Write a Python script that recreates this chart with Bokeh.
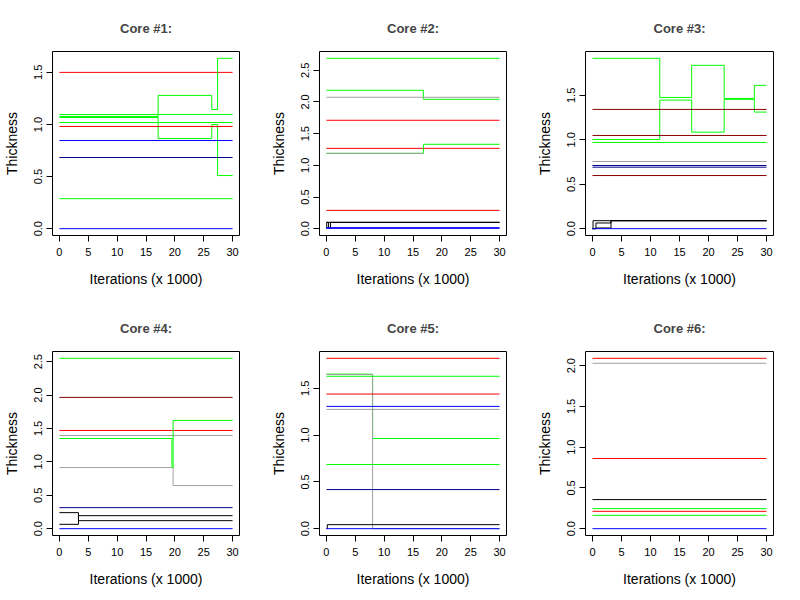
from bokeh.plotting import figure
from bokeh.layouts import gridplot
from bokeh.models import Range1d, FixedTicker, PrintfTickFormatter
from bokeh.embed import file_html
from bokeh.resources import INLINE

# ---------------- data ----------------
X_TICKS = [0, 5, 10, 15, 20, 25, 30]
TITLES = ["Core #1:", "Core #2:", "Core #3:", "Core #4:", "Core #5:", "Core #6:"]
X_LABEL = "Iterations (x 1000)"
Y_LABEL = "Thickness"
Y_TICKS = [
    [0.0, 0.5, 1.0, 1.5],
    [0.0, 0.5, 1.0, 1.5, 2.0, 2.5],
    [0.0, 0.5, 1.0, 1.5],
    [0.0, 0.5, 1.0, 1.5, 2.0, 2.5],
    [0.0, 0.5, 1.0, 1.5],
    [0.0, 0.5, 1.0, 1.5, 2.0],
]

# each series: (kind, change points incl. end [x1000 iterations], thickness values)
core1 = [
    ("r", [0, 30], [1.50]),
    ("g", [0, 30], [1.096]),
    ("g", [0, 17.1, 26.4, 27.4, 30], [1.077, 1.279, 1.144, 1.635]),
    ("g", [0, 17.1, 26.4, 27.4, 30], [1.067, 0.865, 1.000, 0.510]),
    ("g", [0, 30], [1.019]),
    ("r", [0, 30], [0.981]),
    ("b", [0, 30], [0.846]),
    ("db", [0, 30], [0.683]),
    ("g", [0, 30], [0.288]),
    ("b", [0, 30], [0.0]),
]
core2 = [
    ("g", [0, 30], [2.689]),
    ("g", [0, 16.8, 30], [2.184, 2.042]),
    ("gy", [0, 30], [2.074]),
    ("r", [0, 30], [1.711]),
    ("r", [0, 30], [1.268]),
    ("g", [0, 16.8, 30], [1.189, 1.332]),
    ("gy", [0, 16.8], [1.189]),
    ("r", [0, 30], [0.289]),
    ("k", [0, 0.05, 30], [0.0, 0.10]),
    ("k", [0, 0.35, 0.7, 30], [0.10, 0.01, 0.10]),
    ("b", [0, 30], [0.016]),
    ("b", [0, 30], [0.005]),
]
core3 = [
    ("g", [0, 11.6, 17.1, 22.7, 27.9, 30], [1.917, 1.477, 1.838, 1.466, 1.613]),
    ("g", [0, 11.6, 17.1, 22.7, 27.9, 30], [1.004, 1.447, 1.086, 1.455, 1.312]),
    ("dr", [0, 30], [1.342]),
    ("dr", [0, 30], [1.049]),
    ("g", [0, 30], [0.970]),
    ("gy", [0, 30], [0.756]),
    ("db", [0, 30], [0.711]),
    ("db", [0, 30], [0.692]),
    ("dr", [0, 30], [0.598]),
    ("k", [0, 0.1, 30], [0.0, 0.090]),
    ("k", [0, 0.6, 3.2, 30], [0.0, 0.064, 0.090]),
    ("k", [0, 0.6, 3.2, 30], [0.0, 0.008, 0.090]),
    ("b", [0, 30], [0.0]),
]
core4 = [
    ("g", [0, 30], [2.55]),
    ("dr", [0, 30], [1.965]),
    ("r", [0, 30], [1.47]),
    ("gy", [0, 30], [1.395]),
    ("gy", [0, 19.7, 30], [0.915, 0.645]),
    ("g", [0, 19.5, 19.7, 30], [1.35, 0.915, 1.62]),
    ("db", [0, 30], [0.315]),
    ("k", [0, 3.3, 30], [0.24, 0.12]),
    ("k", [0, 3.3, 30], [0.065, 0.195]),
    ("b", [0, 30], [0.0]),
]
core5 = [
    ("r", [0, 30], [1.821]),
    ("g", [0, 8.0, 30], [1.652, 0.964]),
    ("gy", [0, 8.0, 30], [1.648, 0.0]),
    ("g", [0, 30], [1.629]),
    ("r", [0, 30], [1.439]),
    ("b", [0, 30], [1.307]),
    ("gy", [0, 30], [1.275]),
    ("g", [0, 30], [0.686]),
    ("db", [0, 30], [0.418]),
    ("k", [0, 0.15, 30], [0.0, 0.043]),
    ("b", [0, 30], [0.0]),
]
core6 = [
    ("r", [0, 30], [2.09]),
    ("gy", [0, 30], [2.029]),
    ("r", [0, 30], [0.861]),
    ("k", [0, 30], [0.357]),
    ("g", [0, 30], [0.246]),
    ("r", [0, 30], [0.213]),
    ("g", [0, 30], [0.164]),
    ("b", [0, 30], [0.0]),
]
CORES = [core1, core2, core3, core4, core5, core6]

# ---------------- style ----------------
COLORS = {"r": "#FF0000", "dr": "#8B0000", "b": "#0000FF", "db": "#00008B",
          "g": "#00FF00", "gy": "#A0A0A0", "k": "#000000"}
FONT = "Liberation Sans"
COL_W = [267, 266, 266]
COL_LEFT = [51, 51, 52]
ROW_H = [300, 299]
ROW_TOP = [51, 51]
FRAME_W = 188
FRAME_H = 184


def make_panel(i):
    r, c = divmod(i, 3)
    series = CORES[i]
    ys_all = [v for s in series for v in s[2]]
    ymin, ymax = min(ys_all), max(ys_all)
    pad = 0.04 * (ymax - ymin)
    xs_all = [v for s in series for v in s[1]]
    xmin, xmax = min(xs_all), max(xs_all)
    xpad = 0.04 * (xmax - xmin)
    p = figure(width=COL_W[c], height=ROW_H[r], output_backend="svg",
               toolbar_location=None,
               x_range=Range1d(xmin - xpad, xmax + xpad),
               y_range=Range1d(ymin - pad, ymax + pad),
               min_border_left=COL_LEFT[c],
               min_border_right=COL_W[c] - COL_LEFT[c] - FRAME_W,
               min_border_top=ROW_TOP[r],
               min_border_bottom=ROW_H[r] - ROW_TOP[r] - FRAME_H)
    p.title.text = TITLES[i]
    p.title.align = "center"
    p.title.text_font = FONT
    p.title.text_font_size = "13px"
    p.title.text_font_style = "bold"
    p.title.standoff = 32
    p.grid.visible = False
    p.background_fill_color = "white"
    p.border_fill_color = "white"
    p.outline_line_color = "black"
    p.outline_line_width = 1
    p.outline_line_alpha = 1

    for kind, xs, ys in series:
        yy = list(ys) + [ys[-1]]
        p.step(list(xs), yy, mode="after", line_color=COLORS[kind], line_width=1)

    for ax in (p.xaxis[0], p.yaxis[0]):
        ax.axis_line_color = None
        ax.major_tick_line_color = "black"
        ax.major_tick_out = 6
        ax.major_tick_in = 0
        ax.minor_tick_line_color = None
        ax.major_label_text_font = FONT
        ax.major_label_text_font_size = "11px"
        ax.major_label_text_color = "black"
        ax.axis_label_text_font = FONT
        ax.axis_label_text_font_size = "14px"
        ax.axis_label_text_font_style = "normal"
        ax.axis_label_text_color = "black"

    p.xaxis.ticker = FixedTicker(ticks=X_TICKS)
    p.xaxis.formatter = PrintfTickFormatter(format="%d")
    p.xaxis.axis_label = X_LABEL
    p.xaxis.major_label_standoff = 6
    p.xaxis.axis_label_standoff = 12

    p.yaxis.ticker = FixedTicker(ticks=Y_TICKS[i])
    p.yaxis.formatter = PrintfTickFormatter(format="%.1f")
    p.yaxis.axis_label = Y_LABEL
    p.yaxis.major_label_orientation = "vertical"
    p.yaxis.major_label_standoff = 4
    p.yaxis.axis_label_standoff = 12
    return p


panels = [make_panel(i) for i in range(6)]
grid = gridplot([panels[0:3], panels[3:6]], toolbar_location=None)

open("out.html", "w").write(file_html(grid, INLINE))
